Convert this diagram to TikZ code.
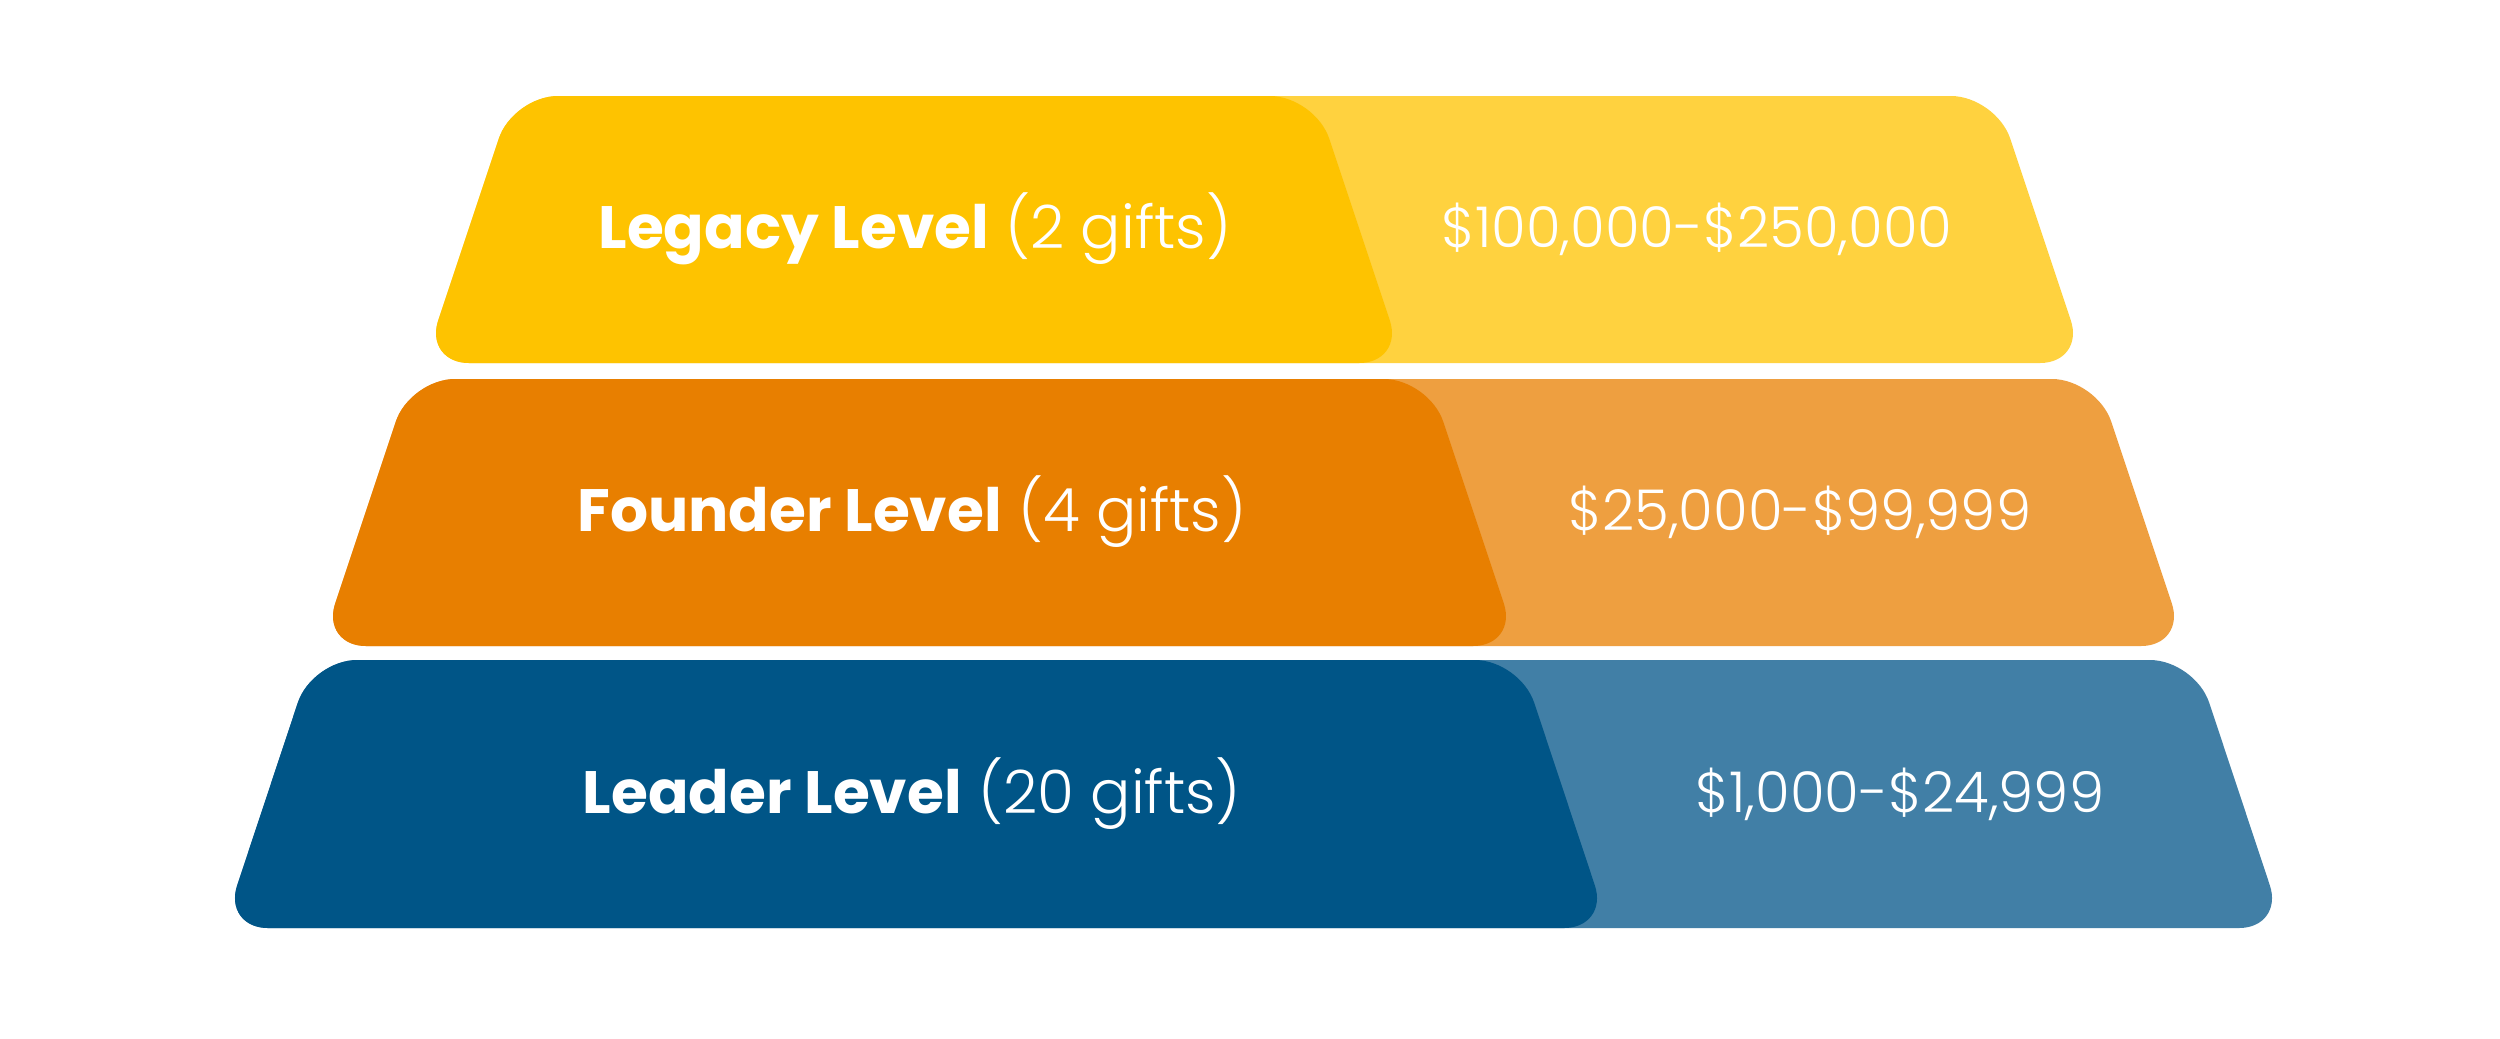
\documentclass[tikz,border=0pt]{standalone}
\usepackage{fontspec}
\setmainfont{Poppins}[UprightFont=* Light, BoldFont=* Bold]
\definecolor{legD}{HTML}{FEC300}
\definecolor{legL}{HTML}{FFD23F}
\definecolor{fouD}{HTML}{E87F00}
\definecolor{fouL}{HTML}{EE9F40}
\definecolor{leaD}{HTML}{005587}
\definecolor{leaL}{HTML}{417FA6}
\tikzset{
  tier/.style={rounded corners=0.45cm},
  lbl/.style={text=white, font=\fontsize{17}{20}\selectfont, inner sep=0pt},
  price/.style={text=white, font=\fontsize{16}{19}\selectfont, inner sep=0pt}
}
\begin{document}
\begin{tikzpicture}[x=0.01cm,y=-0.01cm]
\useasboundingbox[fill=white] (0,0) rectangle (2500,1038);
% Legacy
\fill[legL, tier] (513,96) -- (1996,96) -- (2085,363) -- (424,363) -- cycle;
\fill[legD, tier] (513,96) -- (1315,96) -- (1404,363) -- (424,363) -- cycle;
% Founder
\fill[fouL, tier] (410,379) -- (2097,379) -- (2186,646) -- (321,646) -- cycle;
\fill[fouD, tier] (410,379) -- (1429,379) -- (1518,646) -- (321,646) -- cycle;
% Leader
\fill[leaL, tier] (312,660) -- (2195,660) -- (2284,928) -- (223,928) -- cycle;
\fill[leaD, tier] (312,660) -- (1520,660) -- (1609,928) -- (223,928) -- cycle;
% Labels
\node[lbl] (legacyLbl) at (915,229) {\textbf{Legacy Level} (2 gifts)};
\node[price] (legacyPrice) at (1697,229) {\$100,000-\$250,000};
\node[lbl] (founderLbl) at (912,512) {\textbf{Founder Level} (4 gifts)};
\node[price] (founderPrice) at (1800,512) {\$25,000-\$99,999};
\node[lbl] (leaderLbl) at (912,794) {\textbf{Leader Level} (20 gifts)};
\node[price] (leaderPrice) at (1900,794) {\$1,000-\$24,999};
\end{tikzpicture}
\end{document}
